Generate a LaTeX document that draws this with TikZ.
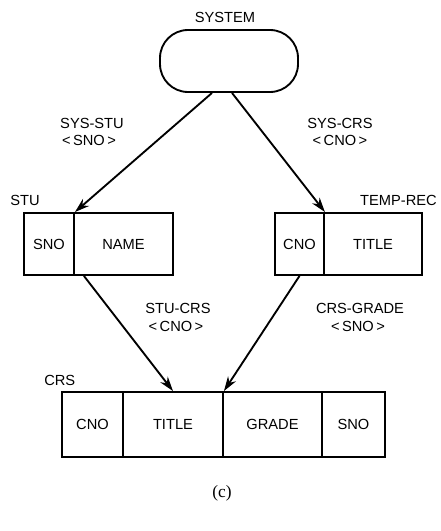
\documentclass[tikz,border=0pt]{standalone}
\usepackage{fontspec}
\setsansfont{Liberation Sans}
\newfontfamily\captionserif{Liberation Serif}
\usetikzlibrary{arrows.meta,calc}
\begin{document}
\begin{tikzpicture}[x=0.75pt,y=-0.75pt,
  lbl/.style={font=\sffamily\fontsize{11}{12}\selectfont,inner sep=0pt},
  field/.style 2 args={draw,line width=1.4pt,inner sep=0pt,
    minimum width=#1*0.75pt,minimum height=#2*0.75pt,
    font=\sffamily\fontsize{11}{12}\selectfont},
  link/.style={line width=1.4pt,-{Stealth[length=11pt,width=7pt]}}]
\useasboundingbox (0,0) rectangle (440,531);

% root node
\node[draw,line width=1.4pt,rounded corners=21pt,inner sep=0pt,
  minimum width=138*0.75pt,minimum height=62*0.75pt] (system) at (229,61) {};
\node[lbl] (systemlbl) at (225,17) {SYSTEM};

% STU record
\node[field={50}{62}] (stu-sno) at (49,244) {SNO};
\node[field={99}{62}] (stu-name) at (123.5,244) {NAME};
\node[lbl,anchor=west] (stulbl) at (10,200) {STU};

% TEMP-REC record
\node[field={49}{62}] (tr-cno) at (299.5,244) {CNO};
\node[field={98}{62}] (tr-title) at (373,244) {TITLE};
\node[lbl,anchor=east] (trlbl) at (437,200) {TEMP-REC};

% CRS record
\node[field={61}{65}] (crs-cno) at (92.5,424.5) {CNO};
\node[field={100}{65}] (crs-title) at (173,424.5) {TITLE};
\node[field={99}{65}] (crs-grade) at (272.5,424.5) {GRADE};
\node[field={63}{65}] (crs-sno) at (353.5,424.5) {SNO};
\node[lbl,anchor=west] (crslbl) at (44,380) {CRS};

% set links
\draw[link] ($(system.south)+(-17,0)$) -- (stu-sno.north east);
\draw[link] ($(system.south)+(3,0)$) -- (tr-cno.north east);
\draw[link] ($(stu-sno.south east)+(9,0)$) -- (crs-title.north);
\draw[link] (tr-cno.south) -- (crs-title.north east);

% link labels
\node[lbl] (l1a) at (92,123) {SYS-STU};
\node[lbl] (l1b) at (89,140) {<\,SNO\,>};
\node[lbl] (l2a) at (340,123) {SYS-CRS};
\node[lbl] (l2b) at (340,140) {<\,CNO\,>};
\node[lbl] (l3a) at (178,308) {STU-CRS};
\node[lbl] (l3b) at (176,326) {<\,CNO\,>};
\node[lbl] (l4a) at (360,308) {CRS-GRADE};
\node[lbl] (l4b) at (358,326) {<\,SNO\,>};

\node[font=\captionserif\fontsize{13}{15}\selectfont,inner sep=0pt] (cap) at (222,493) {(c)};
\end{tikzpicture}
\end{document}
